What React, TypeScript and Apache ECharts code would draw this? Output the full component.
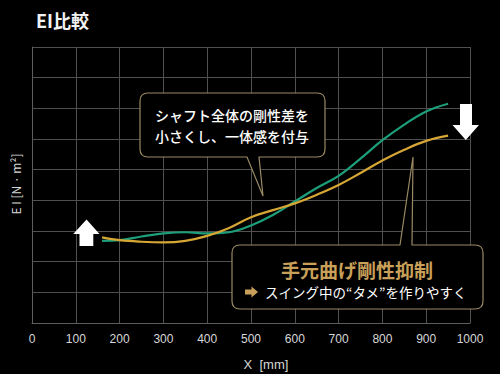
import React, { useEffect, useRef } from "react";
import * as echarts from "echarts";

const xTicks = [0, 100, 200, 300, 400, 500, 600, 700, 800, 900, 1000];
const greenX = [160, 200, 250, 300, 350, 400, 450, 500, 550, 600, 650, 700, 750, 800, 850, 900, 950];
const greenY = [2.68, 2.7, 2.82, 2.92, 2.96, 2.92, 2.96, 3.18, 3.52, 3.96, 4.4, 4.8, 5.36, 5.96, 6.47, 6.9, 7.15];
const yellowX = [160, 200, 250, 300, 350, 400, 450, 500, 550, 600, 650, 700, 750, 800, 850, 900, 950];
const yellowY = [2.79, 2.7, 2.65, 2.63, 2.68, 2.84, 3.1, 3.45, 3.68, 3.9, 4.18, 4.5, 4.89, 5.3, 5.65, 5.94, 6.11];

const callout1 =
  "M148,93 H317 Q325,93 325,101 V149 Q325,157 317,157 H259 L263,196 L247,157 H148 Q140,157 140,149 V101 Q140,93 148,93 Z";
const callout2 =
  "M240,245 H400 L413,157 L412,245 H475 Q483,245 483,253 V301 Q483,309 475,309 H240 Q232,309 232,301 V253 Q232,245 240,245 Z";
echarts.graphic.registerShape("callout1", echarts.graphic.extendPath(callout1, {}));
echarts.graphic.registerShape("callout2", echarts.graphic.extendPath(callout2, {}));

const FONT = "'Noto Sans CJK JP', 'Noto Sans', sans-serif";

export default function App() {
  const ref = useRef<HTMLDivElement>(null);
  useEffect(() => {
    const chart = echarts.init(ref.current!, null, { renderer: "svg" });
    chart.setOption({
      animation: false,
      backgroundColor: "#000",
      grid: { left: 32, right: 30, top: 47, bottom: 51 },
      xAxis: {
        type: "value",
        min: 0,
        max: 1000,
        interval: 100,
        axisLine: { lineStyle: { color: "#5e5e5e" } },
        axisTick: { show: false },
        splitLine: { lineStyle: { color: "#505050", width: 1 } },
        axisLabel: {
          color: "#d8d8d8",
          fontSize: 12,
          margin: 10,
          fontFamily: "Liberation Sans, Arial, sans-serif",
          formatter: (v: number) => (xTicks.includes(v) ? String(v) : ""),
        },
      },
      yAxis: {
        type: "value",
        min: 0,
        max: 9,
        interval: 1,
        axisLine: { show: true, lineStyle: { color: "#5e5e5e" } },
        axisTick: { show: false },
        axisLabel: { show: false },
        splitLine: { lineStyle: { color: "#505050", width: 1 } },
      },
      series: [
        {
          type: "line",
          smooth: 0.4,
          symbol: "none",
          lineStyle: { color: "#1c9f7a", width: 2.2 },
          data: greenX.map((x, i) => [x, greenY[i]]),
          z: 3,
        },
        {
          type: "line",
          smooth: 0.4,
          symbol: "none",
          lineStyle: { color: "#d6a734", width: 2.2 },
          data: yellowX.map((x, i) => [x, yellowY[i]]),
          z: 4,
        },
      ],
      graphic: [
        {
          type: "text",
          left: 36,
          top: 11,
          style: { text: "EI比較", fill: "#f2f2f2", font: `bold 18px ${FONT}` },
        },
        {
          type: "text",
          x: 15,
          y: 184,
          rotation: Math.PI / 2,
          style: {
            text: "E I [N · m²]",
            fill: "#d8d8d8",
            font: `12px ${FONT}`,
            align: "center",
            verticalAlign: "middle",
          },
        },
        {
          type: "text",
          x: 266,
          y: 364,
          style: {
            text: "X  [mm]",
            fill: "#d8d8d8",
            font: `13px Liberation Sans, Arial, sans-serif`,
            align: "center",
            verticalAlign: "middle",
          },
        },
        {
          type: "polygon",
          z: 100,
          shape: {
            points: [
              [86.5, 219.5], [99.5, 234], [93.3, 234], [93.3, 246], [79.5, 246], [79.5, 234], [73.3, 234],
            ],
          },
          style: { fill: "#ffffff" },
        },
        {
          type: "polygon",
          z: 100,
          shape: {
            points: [
              [460, 104], [472, 104], [472, 125], [479, 125], [465.8, 140], [452.5, 125], [460, 125],
            ],
          },
          style: { fill: "#ffffff" },
        },
        {
          type: "callout1",
          z: 100,
          x: 0,
          y: 0,
          style: { fill: "#000000", stroke: "#9a8a64", lineWidth: 1.2 },
        },
        {
          type: "callout2",
          z: 100,
          x: 0,
          y: 0,
          style: { fill: "#000000", stroke: "#9a8a64", lineWidth: 1.2 },
        },
        {
          type: "text",
          z: 101,
          x: 155,
          y: 115,
          style: {
            text: "シャフト全体の剛性差を",
            fill: "#ffffff",
            font: `500 14px ${FONT}`,
            verticalAlign: "middle",
          },
        },
        {
          type: "text",
          z: 101,
          x: 155,
          y: 136,
          style: {
            text: "小さくし、一体感を付与",
            fill: "#ffffff",
            font: `500 14px ${FONT}`,
            verticalAlign: "middle",
          },
        },
        {
          type: "text",
          z: 101,
          x: 357,
          y: 269,
          style: {
            text: "手元曲げ剛性抑制",
            fill: "#c9a05a",
            font: `bold 19px ${FONT}`,
            align: "center",
            verticalAlign: "middle",
          },
        },
        {
          type: "polygon",
          z: 101,
          shape: {
            points: [
              [245, 289.5], [251.5, 289.5], [251.5, 286.5], [258, 292], [251.5, 297.5], [251.5, 294.5], [245, 294.5],
            ],
          },
          style: { fill: "#c9a05a" },
        },
        {
          type: "text",
          z: 101,
          x: 265,
          y: 292,
          style: {
            text: "スイング中の“タメ”を作りやすく",
            fill: "#ffffff",
            font: `13.5px ${FONT}`,
            verticalAlign: "middle",
          },
        },
      ],
    });
    return () => chart.dispose();
  }, []);
  return <div ref={ref} style={{ width: 500, height: 374, position: "absolute", left: 0, top: 0 }} />;
}
